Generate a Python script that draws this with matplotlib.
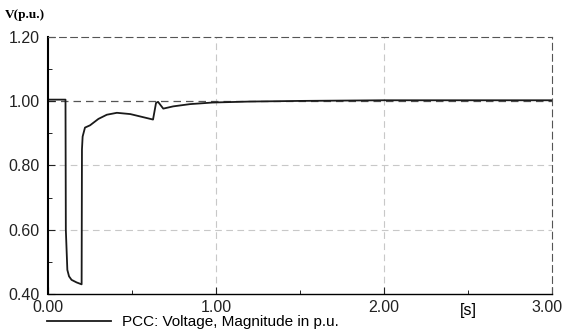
import numpy as np
import matplotlib.pyplot as plt
import matplotlib.transforms as mtransforms
from matplotlib.ticker import MultipleLocator

# PCC voltage trace (time in s, magnitude in p.u.)
t_s = [0.0, 0.104, 0.106, 0.115, 0.125, 0.14, 0.17, 0.2, 0.202, 0.206, 0.22, 0.25, 0.3,
       0.35, 0.41, 0.49, 0.625, 0.643, 0.655, 0.686, 0.745, 0.845, 0.98, 1.2, 1.5,
       2.0, 2.5, 3.0]
v_pu = [1.005, 1.005, 0.60, 0.475, 0.455, 0.444, 0.436, 0.43, 0.85, 0.89, 0.918, 0.925, 0.945,
        0.958, 0.964, 0.96, 0.943, 0.995, 0.998, 0.977, 0.984, 0.991, 0.996, 0.999, 1.001,
        1.003, 1.003, 1.003]

yticks = [0.40, 0.60, 0.80, 1.00, 1.20]
xticks = [0.0, 1.0, 2.0, 3.0]

plt.rcParams['font.family'] = ['Liberation Sans', 'DejaVu Sans']

fig = plt.figure(figsize=(5.65, 3.32), dpi=100)
ax = fig.add_axes([0.085, 0.1145, 0.892, 0.7741])

ax.plot(t_s, v_pu, color='#1a1a1a', lw=1.3, label='PCC: Voltage, Magnitude in p.u.')

ax.set_xlim(0, 3.0)
ax.set_ylim(0.40, 1.20)

# grid: light dashed inner lines, dark dashed at 1.00 / top / right
for y in [0.60, 0.80]:
    ax.axhline(y, color='#c8c8c8', lw=0.8, ls=(0, (6, 4)), zorder=0)
for x in [1.0, 2.0]:
    ax.axvline(x, color='#c8c8c8', lw=0.8, ls=(0, (6, 4)), zorder=0)
ax.axhline(1.00, color='#555555', lw=0.9, ls=(0, (6, 4)), zorder=0)

for side in ['top', 'right']:
    ax.spines[side].set_linestyle((0, (6, 4)))
    ax.spines[side].set_color('#555555')
ax.spines['left'].set_linewidth(1.5)
ax.spines['bottom'].set_linewidth(1.0)

ax.set_xticks(xticks, [f'{x:.2f}' for x in xticks])
ax.set_yticks(yticks, [f'{y:.2f}' for y in yticks])
ax.xaxis.set_minor_locator(MultipleLocator(0.5))
ax.yaxis.set_minor_locator(MultipleLocator(0.1))
ax.tick_params(axis='both', which='major', direction='in', length=5, labelsize=11.5, colors='#222222')
ax.tick_params(axis='both', which='minor', direction='in', length=3)
ax.tick_params(axis='x', pad=4)
ax.tick_params(axis='y', pad=6)

# keep the last x label inside the figure
last = ax.get_xticklabels()[-1]
last.set_transform(last.get_transform() + mtransforms.ScaledTranslation(-0.05, 0, fig.dpi_scale_trans))

fig.text(0.008, 0.945, 'V(p.u.)', family='Liberation Serif', weight='bold', fontsize=9.5)
ax.text(2.5, -0.035, '[s]', transform=ax.get_xaxis_transform(), ha='center', va='top', fontsize=11.5)

fig.legend(loc='center left', bbox_to_anchor=(0.083, 0.03), frameon=False, fontsize=11,
           handlelength=4.2, handletextpad=0.7, borderpad=0, borderaxespad=0)

fig.savefig('out.png', dpi=100)
